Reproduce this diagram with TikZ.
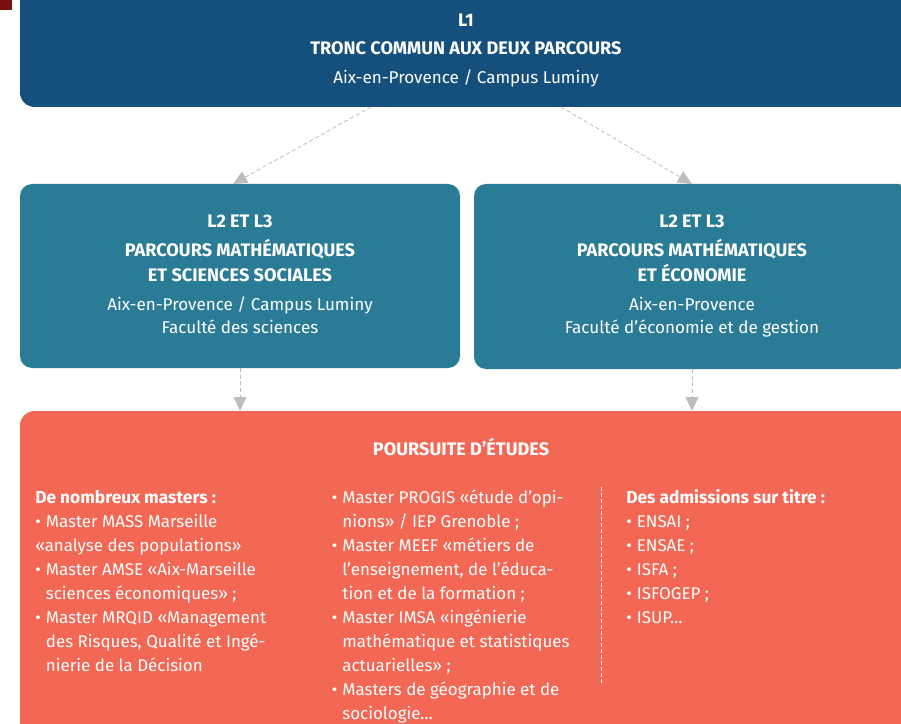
\documentclass[tikz,border=0pt]{standalone}
\usepackage{fontspec}
\setmainfont{Fira Sans}
\usetikzlibrary{arrows.meta}
\definecolor{topblue}{HTML}{15507C}
\definecolor{boxteal}{HTML}{2A7B96}
\definecolor{coral}{HTML}{F26855}
\definecolor{darkred}{HTML}{7B1010}
\definecolor{arrgray}{HTML}{BDBDBD}
\newcommand\mybul{\makebox[8pt][l]{•}}
\newcommand\myind{\hspace*{8pt}}
\begin{document}
\begin{tikzpicture}[x=0.75pt,y=-0.75pt,
  panel/.style={inner sep=0pt, outer sep=0pt, anchor=north west},
  ttl/.style={text=white, inner sep=0pt, anchor=base, font=\bfseries\fontsize{13.6}{15}\selectfont},
  txt/.style={text=white, inner sep=0pt, anchor=base, font=\fontsize{12.8}{15}\selectfont},
  col/.style={text=white, inner sep=0pt, anchor=base west},
  conn/.style={draw=arrgray, dash pattern=on 3pt off 2pt, line width=0.6pt,
    -{Triangle[length=10.5pt,width=9.5pt,fill=arrgray]}}
]
\useasboundingbox (0,0) rectangle (901,724);
\clip (0,0) rectangle (901,724);
\fill[darkred] (0,0) rectangle (12,10);

% panels
\node[panel, fill=topblue, rounded corners=11pt, minimum width=682.5pt, minimum height=102.75pt] (top) at (20,-30) {};
\node[panel, fill=boxteal, rounded corners=9pt, minimum width=330pt, minimum height=138pt] (mss) at (20,184) {};
\node[panel, fill=boxteal, rounded corners=9pt, minimum width=327pt, minimum height=138.75pt] (eco) at (474,184) {};
\node[panel, fill=coral, rounded corners=11pt, minimum width=690pt, minimum height=262.5pt] (pour) at (20,411) {};

% top texts
\node[ttl] (t1) at (466,26.5) {L1};
\node[ttl] (t2) at (466,55) {TRONC COMMUN AUX DEUX PARCOURS};
\node[txt] (t3) at (466,83.5) {Aix-en-Provence / Campus Luminy};

% left L2 box
\node[ttl] (a1) at (240,228) {L2 ET L3};
\node[ttl] (a2) at (240,257) {PARCOURS MATHÉMATIQUES};
\node[ttl] (a3) at (240,281.7) {ET SCIENCES SOCIALES};
\node[txt] (a4) at (240,310) {Aix-en-Provence / Campus Luminy};
\node[txt] (a5) at (240,333.3) {Faculté des sciences};

% right L2 box
\node[ttl] (b1) at (692,228) {L2 ET L3};
\node[ttl] (b2) at (692,257) {PARCOURS MATHÉMATIQUES};
\node[ttl] (b3) at (692,281.7) {ET ÉCONOMIE};
\node[txt] (b4) at (692,310) {Aix-en-Provence};
\node[txt] (b5) at (692,333.3) {Faculté d’économie et de gestion};

% bottom
\node[ttl] (p0) at (461,455) {POURSUITE D’ÉTUDES};

\node[col] (c1) at (35,503.5) {\parbox[t]{280pt}{\fontsize{12.7}{18}\selectfont\raggedright
{\fontsize{13}{18}\selectfont\textbf{De nombreux masters :}}\\
\mybul Master MASS Marseille\\
«analyse des populations»\\
\mybul Master AMSE «Aix-Marseille\\
\myind sciences économiques» ;\\
\mybul Master MRQID «Management\\
\myind des Risques, Qualité et Ingé-\\
\myind nierie de la Décision}};

\node[col] (c2) at (331.5,503.5) {\parbox[t]{280pt}{\fontsize{12.7}{18}\selectfont\raggedright
\mybul Master PROGIS «étude d’opi-\\
\myind nions» / IEP Grenoble ;\\
\mybul Master MEEF «métiers de\\
\myind l’enseignement, de l’éduca-\\
\myind tion et de la formation ;\\
\mybul Master IMSA «ingénierie\\
\myind mathématique et statistiques\\
\myind actuarielles» ;\\
\mybul Masters de géographie et de\\
\myind sociologie…}};

\node[col] (c3) at (626,503.5) {\parbox[t]{260pt}{\fontsize{12.7}{18}\selectfont\raggedright
{\fontsize{13}{18}\selectfont\textbf{Des admissions sur titre :}}\\
\mybul ENSAI ;\\
\mybul ENSAE ;\\
\mybul ISFA ;\\
\mybul ISFOGEP ;\\
\mybul ISUP…}};

\coordinate (d1) at (601,487);
\coordinate (d2) at (601,685);
\draw[white, line width=0.7pt, dash pattern=on 3pt off 1.5pt] (d1) -- (d2);

% connectors
\coordinate (s1) at (371,107);
\coordinate (e1) at (233,184);
\coordinate (s2) at (561,107);
\coordinate (e2) at (692,184);
\draw[conn] (s1) -- (e1);
\draw[conn] (s2) -- (e2);
\draw[conn] (mss.south) -- (mss.south |- pour.north);
\draw[conn] (eco.south -| b1) -- (b1 |- pour.north);
\end{tikzpicture}
\end{document}
